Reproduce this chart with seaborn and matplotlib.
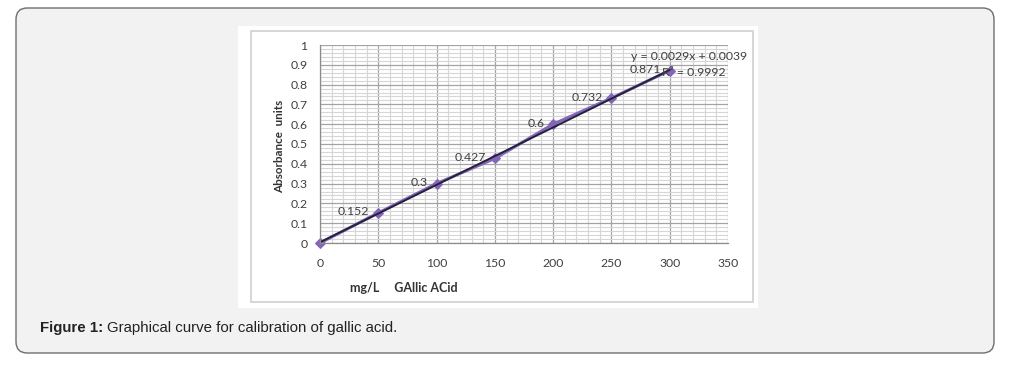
import matplotlib
matplotlib.use("Agg")
import matplotlib.pyplot as plt
import seaborn as sns
import pandas as pd
import numpy as np
from matplotlib.patches import FancyBboxPatch, Rectangle
from matplotlib.ticker import MultipleLocator

# data
conc = [0, 50, 100, 150, 200, 250, 300]
absorb = [0.0, 0.152, 0.3, 0.427, 0.6, 0.732, 0.871]
point_labels = ["", "0.152", "0.3", "0.427", "0.6", "0.732", "0.871"]
slope = 0.0029
intercept = 0.0039
r2 = 0.9992
x_ticks = [0, 50, 100, 150, 200, 250, 300, 350]
y_ticks = [0, 0.1, 0.2, 0.3, 0.4, 0.5, 0.6, 0.7, 0.8, 0.9, 1]
y_tick_labels = ["0", "0.1", "0.2", "0.3", "0.4", "0.5", "0.6", "0.7", "0.8", "0.9", "1"]

df = pd.DataFrame({"conc": conc, "absorb": absorb})

sns.set_style("white")
plt.rcParams["font.family"] = ["Lato", "DejaVu Sans"]

W, H = 1021, 370
fig = plt.figure(figsize=(W / 100, H / 100), dpi=100)
fig.patch.set_facecolor("white")

def px(x0, y0, x1, y1):
    # pixel box (top-left origin) -> figure fraction rectangle
    return x0 / W, 1 - y1 / H, (x1 - x0) / W, (y1 - y0) / H

# outer rounded panel
bx, by, bw, bh = px(16, 8, 994, 353)
fig.patches.append(FancyBboxPatch((bx, by), bw, bh, boxstyle="round,pad=0,rounding_size=0.011",
                                  transform=fig.transFigure, facecolor="#f2f2f2",
                                  edgecolor="#6e6e6e", linewidth=1.0, mutation_aspect=W / H))
# white picture area and chart frame
wx, wy, ww, wh = px(238, 26, 758, 308)
fig.patches.append(Rectangle((wx, wy), ww, wh, transform=fig.transFigure,
                             facecolor="white", edgecolor="none"))
cx, cy, cw, ch = px(251, 31, 753, 302)
fig.patches.append(Rectangle((cx, cy), cw, ch, transform=fig.transFigure,
                             facecolor="white", edgecolor="#d0d0d0", linewidth=1.2))

ax = fig.add_axes(px(320, 45, 728, 243))
ax.set_zorder(5)
ax.set_facecolor("white")

ax.xaxis.set_minor_locator(MultipleLocator(10))
ax.yaxis.set_minor_locator(MultipleLocator(0.02))
ax.grid(which="minor", color="#d6d6d6", linewidth=0.8)
ax.grid(which="major", color="#a4a4a4", linewidth=0.9)
ax.set_axisbelow(True)

# data series
sns.lineplot(data=df, x="conc", y="absorb", ax=ax, color="#8366b8", marker="D",
             markersize=5, markeredgecolor="#8366b8", linewidth=2.2)
ax.lines[0].set_clip_on(False)
# linear trendline
xfit = np.array([conc[0], conc[-1]])
ax.plot(xfit, slope * xfit + intercept, color="#23203a", linewidth=1.4)

for xv, yv, lab in zip(conc, absorb, point_labels):
    if lab:
        ax.annotate(lab, (xv, yv), xytext=(-9, 1), textcoords="offset pixels",
                    ha="right", va="center", fontsize=8.8, color="#404040")

ax.set_xlim(0, 350)
ax.set_ylim(0, 1)
ax.set_xticks(x_ticks)
ax.set_xticklabels([str(t) for t in x_ticks])
ax.set_yticks(y_ticks)
ax.set_yticklabels(y_tick_labels)
ax.tick_params(axis="both", which="both", length=0, labelsize=8.8, labelcolor="#404040")
ax.tick_params(axis="x", pad=11)
ax.tick_params(axis="y", pad=9)
ax.set_xlabel("")
ax.set_ylabel("")
for s in ["top", "right"]:
    ax.spines[s].set_visible(False)
for s in ["left", "bottom"]:
    ax.spines[s].set_color("#8c8c8c")
    ax.spines[s].set_linewidth(0.9)

# trendline equation
fig.text(631 / W, 1 - 57 / H, f"y = {slope}x + {intercept}", fontsize=8.8, color="#404040",
         ha="left", va="center", zorder=10)
fig.text(662 / W, 1 - 72 / H, f"R² = {r2}", fontsize=8.8, color="#404040",
         ha="left", va="center", zorder=10)

# axis titles
fig.text(280 / W, 1 - 146 / H, "Absorbance  units", rotation=90, fontsize=8.4,
         fontweight="bold", color="#333333", ha="center", va="center")
fig.text(350 / W, 1 - 288 / H, "mg/L     GAllic ACid", fontsize=9,
         fontweight="bold", color="#333333", ha="left", va="center")

# caption
cap = fig.text(40 / W, 1 - 328 / H, "Figure 1:", fontsize=10.8, fontweight="bold",
               family="Liberation Sans", color="#222222", ha="left", va="center")
fig.canvas.draw()
bb = cap.get_window_extent()
fig.text((bb.x1 + 4) / W, 1 - 328 / H, "Graphical curve for calibration of gallic acid.",
         fontsize=10.8, family="Liberation Sans", color="#222222", ha="left", va="center")

fig.savefig("out.png", dpi=100)
